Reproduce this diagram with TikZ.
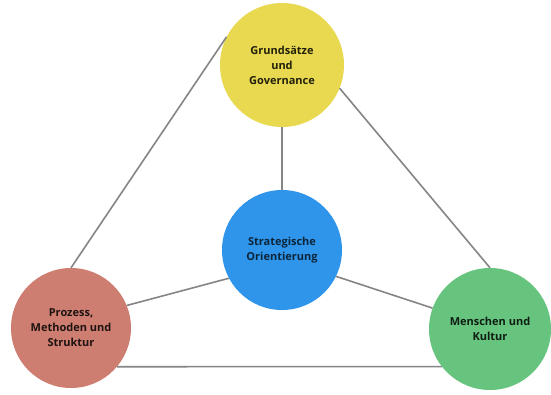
\documentclass[tikz,border=0pt]{standalone}
\usepackage{fontspec}
\setmainfont{Open Sans}
\begin{document}
\begin{tikzpicture}[x=1pt,y=-1pt,
  bubble/.style={circle,minimum size=#1,inner sep=0pt,align=center,
    font=\fontsize{11}{15}\selectfont\bfseries},
  link/.style={draw=linegray,line width=1.6pt}]
\definecolor{linegray}{HTML}{858585}
\definecolor{cyellow}{HTML}{E8D950}
\definecolor{cblue}{HTML}{2F95EA}
\definecolor{cred}{HTML}{CD7E70}
\definecolor{cgreen}{HTML}{66C47E}
\useasboundingbox (0,0) rectangle (551,394);
\fill[white] (0,0) rectangle (551,394);
\node[bubble=124pt,fill=cyellow,text=black!85!cyellow] (gov) at (282,65) {Grundsätze\\und\\Governance};
\node[bubble=120pt,fill=cblue,text=black!75!cblue] (strat) at (282,250) {Strategische\\Orientierung};
\node[bubble=120pt,fill=cred,text=black!85!cred] (proz) at (71,328) {Prozess,\\Methoden und\\Struktur};
\node[bubble=122pt,fill=cgreen,text=black!85!cgreen] (mensch) at (490,329) {Menschen und\\Kultur};
\draw[link] (gov.153) -- (proz.north);
\draw[link] (gov.-22) -- (mensch.north);
\draw[link] (proz.-40) -- (mensch.218.5);
\draw[link] (gov.south) -- (strat.north);
\draw[link] (strat.208) -- (proz.22);
\draw[link] (strat.-26) -- (mensch.160);
\end{tikzpicture}
\end{document}
